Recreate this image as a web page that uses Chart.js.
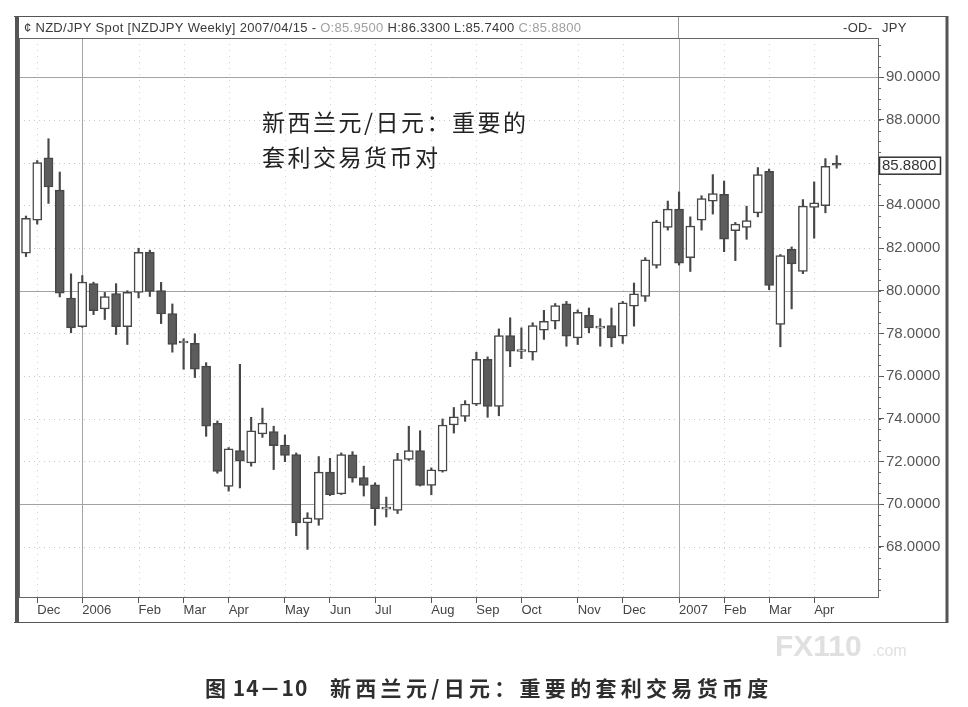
<!DOCTYPE html>
<html>
<head>
<meta charset="utf-8">
<script src="https://cdn.jsdelivr.net/npm/chart.js@4.4.0/dist/chart.umd.min.js"></script>
<style>
  html, body { margin: 0; padding: 0; background: #fff; }
</style>
</head>
<body>
<canvas id="candleChart" width="968" height="707"></canvas>
<script>
// weekly NZD/JPY candles, first week starting 2005-11-27
const weekStart = Date.UTC(2005, 10, 27);
const tickLabels = ['Dec', '2006', 'Feb', 'Mar', 'Apr', 'May', 'Jun', 'Jul', 'Aug', 'Sep', 'Oct', 'Nov', 'Dec', '2007', 'Feb', 'Mar', 'Apr'];
const yTicks = [68, 70, 72, 74, 76, 78, 80, 82, 84, 86, 88, 90];
const lastClose = 85.88;

const openPrices = [81.76, 83.31, 86.23, 84.71, 79.66, 78.31, 80.33, 79.15, 79.86, 78.31,
  79.92, 81.80, 80.01, 78.93, 77.55, 77.53, 76.47, 73.79, 70.83, 72.51,
  71.93, 73.29, 73.40, 72.77, 72.32, 69.12, 69.29, 71.50, 70.48, 72.31,
  71.24, 70.91, 69.77, 69.71, 72.09, 72.51, 70.88, 71.55, 73.71, 74.11,
  74.69, 76.78, 74.58, 77.90, 77.15, 77.12, 78.15, 78.57, 79.39, 77.79,
  78.85, 78.25, 78.37, 77.87, 79.27, 79.73, 81.18, 82.97, 83.82, 81.55,
  83.31, 84.20, 84.51, 82.81, 82.97, 83.65, 85.59, 78.42, 81.94, 80.90,
  83.90, 83.98, 85.95];
const highPrices = [83.50, 86.10, 87.12, 85.56, 80.79, 80.71, 80.40, 79.92, 80.33, 80.00,
  81.99, 81.90, 80.39, 79.38, 77.75, 77.98, 76.63, 73.90, 72.65, 76.55,
  74.07, 74.50, 73.65, 73.24, 72.40, 69.60, 72.23, 72.15, 72.40, 72.46,
  71.78, 71.00, 70.33, 72.38, 73.65, 73.44, 71.70, 73.99, 74.53, 74.85,
  77.12, 76.90, 78.21, 78.73, 78.26, 78.50, 79.08, 79.40, 79.50, 79.10,
  79.19, 78.69, 79.19, 79.50, 80.36, 81.55, 83.30, 84.20, 84.63, 83.46,
  84.45, 85.44, 85.14, 83.20, 83.96, 85.77, 85.70, 81.70, 82.05, 84.27,
  85.10, 86.19, 86.33];
const lowPrices = [81.60, 83.12, 84.09, 79.71, 78.03, 78.28, 78.88, 78.65, 77.95, 77.48,
  79.66, 79.73, 78.46, 77.12, 76.32, 75.93, 73.18, 71.45, 70.61, 70.76,
  71.78, 73.13, 71.62, 71.99, 68.52, 67.88, 69.01, 70.40, 70.45, 71.03,
  70.38, 69.01, 69.40, 69.56, 72.05, 70.85, 70.44, 71.50, 73.33, 73.88,
  74.62, 74.07, 74.14, 76.44, 76.82, 76.75, 77.72, 78.21, 77.40, 77.48,
  78.03, 77.40, 77.37, 77.53, 78.34, 79.50, 81.06, 82.84, 81.20, 80.90,
  82.84, 83.59, 81.83, 81.41, 82.41, 83.46, 80.05, 77.37, 79.15, 80.80,
  82.46, 83.65, 85.74];
const closePrices = [83.39, 86.00, 84.86, 79.89, 78.26, 80.41, 79.07, 79.73, 78.31, 79.92,
  81.80, 79.97, 78.91, 77.48, 77.60, 76.32, 73.65, 71.53, 72.59, 72.01,
  73.44, 73.80, 72.74, 72.28, 69.12, 69.36, 71.50, 70.44, 72.32, 71.22,
  70.88, 69.79, 69.81, 72.09, 72.51, 70.88, 71.61, 73.71, 74.09, 74.69,
  76.78, 74.58, 77.90, 77.17, 77.19, 78.37, 78.57, 79.30, 77.87, 78.99,
  78.26, 78.27, 77.79, 79.43, 79.85, 81.45, 83.23, 83.82, 81.29, 83.03,
  84.32, 84.55, 82.42, 83.12, 83.28, 85.44, 80.25, 81.65, 81.26, 83.96,
  84.12, 85.83, 85.88];

const idx = openPrices.map((v, i) => i);
const weekDates = idx.map(i => new Date(weekStart + i * 7 * 86400000));
// first candle of every month carries a tick
const monthIdx = idx.filter(i => i > 0 && weekDates[i].getUTCMonth() !== weekDates[i - 1].getUTCMonth());
const labelAt = {};
monthIdx.forEach((v, k) => { labelAt[v] = tickLabels[k]; });

const dark = '#474747';
const bodies = idx.map(i => ({ x: i, y: [Math.min(openPrices[i], closePrices[i]), Math.max(openPrices[i], closePrices[i])] }));
const wicks = idx.map(i => ({ x: i, y: [lowPrices[i], highPrices[i]] }));
const bodyFill = idx.map(i => closePrices[i] >= openPrices[i] ? '#ffffff' : '#5c5c5c');

const decor = {
  id: 'decor',
  beforeDraw(chart) {
    const c = chart.ctx;
    c.save();
    c.fillStyle = '#fff';
    c.fillRect(0, 0, chart.width, chart.height);
    c.restore();
  },
  beforeDatasetsDraw(chart) {
    const { ctx: c, chartArea: a, scales: { x, y } } = chart;
    c.save();
    c.lineWidth = 1;
    yTicks.forEach(v => {
      const py = Math.round(y.getPixelForValue(v)) + 0.5;
      if (v % 10 === 0) { c.setLineDash([]); c.strokeStyle = '#a3a3a3'; }
      else { c.setLineDash([1, 4]); c.strokeStyle = '#c8c8c8'; }
      c.beginPath(); c.moveTo(a.left, py); c.lineTo(a.right, py); c.stroke();
    });
    monthIdx.forEach((v, k) => {
      const px = Math.round(x.getPixelForValue(v)) + 0.5;
      if (/^\d{4}$/.test(tickLabels[k])) { c.setLineDash([]); c.strokeStyle = '#a3a3a3'; }
      else { c.setLineDash([1, 5]); c.strokeStyle = '#d0d0d0'; }
      c.beginPath(); c.moveTo(px, a.top); c.lineTo(px, a.bottom); c.stroke();
    });
    c.restore();
  },
  afterDraw(chart) {
    const { ctx: c, chartArea: a, scales: { y } } = chart;
    c.save();
    // plot border
    c.strokeStyle = '#666';
    c.lineWidth = 1;
    c.strokeRect(a.left + 0.5, a.top + 0.5, a.right - a.left, a.bottom - a.top);
    // window frame
    c.strokeStyle = '#555';
    c.beginPath(); c.moveTo(14, 16.5); c.lineTo(948, 16.5); c.stroke();
    c.beginPath(); c.moveTo(14, 622.5); c.lineTo(948, 622.5); c.stroke();
    c.lineWidth = 4;
    c.beginPath(); c.moveTo(17, 16); c.lineTo(17, 623); c.stroke();
    c.lineWidth = 3;
    c.beginPath(); c.moveTo(947, 16); c.lineTo(947, 623); c.stroke();
    c.lineWidth = 1;
    c.strokeStyle = '#999';
    c.beginPath(); c.moveTo(678.5, 17); c.lineTo(678.5, a.top); c.stroke();

    // header line
    c.font = '13px "Liberation Sans", Arial, sans-serif';
    c.letterSpacing = '0.3px';
    c.textBaseline = 'middle';
    c.textAlign = 'left';
    const parts = [
      ['¢ NZD/JPY Spot [NZDJPY Weekly] 2007/04/15 - ', '#3a3a3a'],
      ['O:85.9500 ', '#a0a0a0'],
      ['H:86.3300 L:85.7400 ', '#3a3a3a'],
      ['C:85.8800', '#a0a0a0']
    ];
    let hx = 24;
    parts.forEach(([t, col]) => { c.fillStyle = col; c.fillText(t, hx, 28); hx += c.measureText(t).width; });
    c.fillStyle = '#3a3a3a';
    c.fillText('-OD-', 843, 28);
    c.fillText('JPY', 882, 28);
    c.letterSpacing = '0px';

    // minor ticks on price axis
    c.strokeStyle = '#666';
    for (let v = 66; v <= 91.5; v += 0.5) {
      const py = Math.round(y.getPixelForValue(v)) + 0.5;
      c.beginPath(); c.moveTo(a.right, py); c.lineTo(a.right + 3, py); c.stroke();
    }
    // last price box
    const ly = y.getPixelForValue(lastClose);
    c.fillStyle = '#fff';
    c.fillRect(a.right + 1, ly - 8, 62, 17);
    c.strokeStyle = '#333';
    c.lineWidth = 1.5;
    c.strokeRect(a.right + 1.5, ly - 8, 61, 17);
    c.fillStyle = '#333';
    c.font = '15px "Liberation Sans", Arial, sans-serif';
    c.fillText(lastClose.toFixed(4), a.right + 4, ly + 1);

    // annotation inside the plot
    c.fillStyle = '#222';
    c.font = '23px "Noto Sans CJK SC", sans-serif';
    c.letterSpacing = '2.5px';
    c.fillText('新西兰元/日元：重要的', 262, 122);
    c.fillText('套利交易货币对', 262, 157);

    // caption
    c.fillStyle = '#2e2e2e';
    c.font = 'bold 21px "Noto Sans CJK SC", sans-serif';
    c.letterSpacing = '1px';
    c.fillText('图 14－10', 205, 688);
    c.letterSpacing = '4.3px';
    c.fillText('新西兰元/日元：重要的套利交易货币度', 330, 688);

    // watermark
    c.letterSpacing = '0px';
    c.fillStyle = '#e0e0e0';
    c.font = 'bold 30px "Liberation Sans", Arial, sans-serif';
    c.fillText('FX110', 775, 648);
    c.font = '16px "Liberation Sans", Arial, sans-serif';
    c.fillText('.com', 872, 652);
    c.restore();
  }
};

const ctx = document.getElementById('candleChart').getContext('2d');
const candleChart = new Chart(ctx, {
  type: 'bar',
  data: {
    datasets: [
      {
        label: 'body',
        data: bodies,
        backgroundColor: bodyFill,
        borderColor: dark,
        borderWidth: 1.5,
        borderSkipped: false,
        barThickness: 9,
        minBarLength: 2,
        grouped: false,
        order: 0
      },
      {
        label: 'wick',
        data: wicks,
        backgroundColor: dark,
        borderWidth: 0,
        barThickness: 1.5,
        grouped: false,
        order: 1
      }
    ]
  },
  options: {
    responsive: false,
    animation: false,
    devicePixelRatio: 1,
    layout: { padding: { left: 19, top: 38, right: 22, bottom: 85 } },
    plugins: { legend: { display: false }, tooltip: { enabled: false } },
    scales: {
      x: {
        type: 'linear',
        min: -0.62,
        max: 75.67,
        offset: false,
        afterBuildTicks: s => { s.ticks = monthIdx.map(v => ({ value: v })); },
        afterFit: s => { s.height = 25; },
        ticks: {
          callback: v => labelAt[v] || '',
          autoSkip: false,
          maxRotation: 0,
          align: 'start',
          padding: 0,
          color: '#444',
          font: { family: '"Liberation Sans", Arial, sans-serif', size: 13 }
        },
        grid: { drawOnChartArea: false, offset: false, tickLength: 6, tickColor: '#555' },
        border: { display: false }
      },
      y: {
        position: 'right',
        min: 65.65,
        max: 91.84,
        afterBuildTicks: s => { s.ticks = yTicks.map(v => ({ value: v })); },
        afterFit: s => { s.width = 68; },
        ticks: {
          callback: v => v.toFixed(4),
          padding: 2,
          color: '#555',
          font: { family: '"Liberation Sans", Arial, sans-serif', size: 15 }
        },
        grid: { drawOnChartArea: false, tickLength: 6, tickColor: '#555' },
        border: { display: false }
      }
    }
  },
  plugins: [decor]
});
</script>
</body>
</html>
